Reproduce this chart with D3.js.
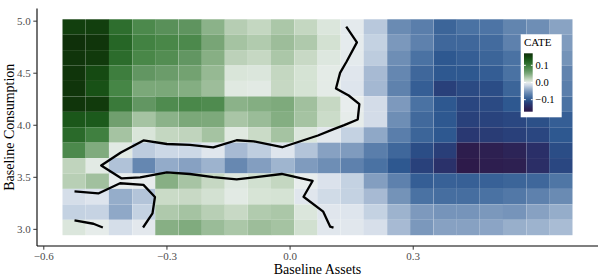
<!DOCTYPE html>
<html>
<head>
<meta charset="utf-8">
<script src="https://cdn.jsdelivr.net/npm/d3@7"></script>
<style>
  html, body { margin: 0; padding: 0; background: #ffffff; }
  svg { display: block; }
  text { font-family: "Liberation Serif", "DejaVu Serif", serif; }
</style>
</head>
<body>
<svg id="chart" width="600" height="280"></svg>
<script>
// ---------------- data ----------------
// column centres (Baseline Assets)
const xCenters = [-0.525, -0.468, -0.412, -0.355, -0.299, -0.242, -0.186, -0.130, -0.073, -0.017,
                  0.040, 0.096, 0.153, 0.209, 0.266, 0.322, 0.379, 0.435, 0.492, 0.548, 0.605, 0.661];
// row centres (Baseline Consumption), top row first
const yCenters = [4.939, 4.791, 4.643, 4.495, 4.347, 4.198, 4.050, 3.902, 3.754, 3.606, 3.458, 3.310, 3.161, 3.013];
const tileW = 0.0565;
const tileH = 0.1482;

// CATE estimates, one row per yCenters entry (top to bottom)
const cate = [
  [0.155, 0.155, 0.110, 0.085, 0.075, 0.070, 0.045, 0.025, 0.018, 0.030, 0.018, 0.006, -0.003, -0.025, -0.060, -0.070, -0.090, -0.080, -0.078, -0.065, -0.058, -0.045],
  [0.170, 0.165, 0.120, 0.093, 0.088, 0.085, 0.055, 0.033, 0.027, 0.037, 0.028, 0.010, -0.002, -0.020, -0.052, -0.068, -0.088, -0.088, -0.085, -0.068, -0.060, -0.050],
  [0.165, 0.160, 0.112, 0.088, 0.080, 0.068, 0.047, 0.022, 0.017, 0.030, 0.016, 0.005, -0.003, -0.023, -0.058, -0.080, -0.100, -0.095, -0.090, -0.080, -0.065, -0.055],
  [0.165, 0.145, 0.097, 0.068, 0.063, 0.058, 0.040, 0.007, 0.006, 0.018, 0.009, 0.002, -0.006, -0.032, -0.063, -0.088, -0.100, -0.100, -0.096, -0.080, -0.073, -0.066],
  [0.165, 0.140, 0.090, 0.053, 0.053, 0.048, 0.037, 0.004, 0.003, 0.017, 0.009, 0.002, -0.007, -0.033, -0.067, -0.095, -0.118, -0.110, -0.108, -0.090, -0.080, -0.070],
  [0.165, 0.160, 0.100, 0.068, 0.083, 0.087, 0.083, 0.045, 0.048, 0.051, 0.035, 0.017, 0.000, -0.013, -0.051, -0.080, -0.100, -0.113, -0.110, -0.100, -0.090, -0.080],
  [0.135, 0.133, 0.060, 0.033, 0.045, 0.053, 0.052, 0.031, 0.038, 0.048, 0.033, 0.014, 0.001, -0.013, -0.058, -0.087, -0.100, -0.117, -0.115, -0.112, -0.106, -0.095],
  [0.115, 0.095, 0.033, 0.007, 0.018, 0.020, 0.033, 0.004, 0.015, 0.033, 0.006, -0.004, -0.020, -0.042, -0.070, -0.090, -0.100, -0.125, -0.122, -0.118, -0.113, -0.100],
  [0.085, 0.050, 0.003, -0.023, -0.016, -0.016, -0.006, -0.032, -0.022, -0.007, -0.027, -0.046, -0.050, -0.070, -0.088, -0.108, -0.120, -0.165, -0.160, -0.152, -0.135, -0.108],
  [0.020, 0.003, -0.028, -0.063, -0.040, -0.046, -0.036, -0.062, -0.048, -0.035, -0.050, -0.058, -0.068, -0.080, -0.100, -0.117, -0.133, -0.170, -0.163, -0.160, -0.137, -0.112],
  [0.024, 0.035, 0.000, -0.001, 0.047, 0.032, 0.017, 0.005, 0.011, 0.018, 0.000, -0.009, -0.020, -0.048, -0.068, -0.095, -0.093, -0.094, -0.093, -0.090, -0.088, -0.077],
  [-0.012, -0.008, -0.039, -0.027, 0.015, 0.016, 0.010, 0.003, 0.008, 0.009, -0.006, -0.014, -0.020, -0.032, -0.055, -0.080, -0.083, -0.083, -0.080, -0.075, -0.068, -0.060],
  [-0.020, -0.019, -0.042, -0.020, 0.028, 0.033, 0.024, 0.016, 0.027, 0.030, 0.006, -0.006, -0.007, -0.020, -0.036, -0.051, -0.054, -0.054, -0.052, -0.054, -0.046, -0.039],
  [0.006, 0.001, -0.012, -0.004, 0.047, 0.050, 0.038, 0.030, 0.037, 0.033, 0.011, -0.005, -0.005, -0.011, -0.032, -0.052, -0.046, -0.046, -0.044, -0.038, -0.036, -0.031]
];

// zero-CATE contour lines [assets, consumption]
const contourA = [
  [0.138, 4.942], [0.164, 4.791], [0.139, 4.608], [0.123, 4.498], [0.113, 4.349], [0.144, 4.281],
  [0.170, 4.198], [0.166, 4.051], [0.133, 3.996], [0.106, 3.955], [0.069, 3.897], [-0.018, 3.784],
  [-0.087, 3.840], [-0.129, 3.851], [-0.186, 3.782], [-0.243, 3.806], [-0.299, 3.815], [-0.356, 3.849],
  [-0.411, 3.734], [-0.459, 3.609], [-0.409, 3.484], [-0.364, 3.494], [-0.299, 3.542], [-0.243, 3.527],
  [-0.186, 3.496], [-0.129, 3.475], [-0.019, 3.527], [0.056, 3.460], [0.034, 3.308], [0.082, 3.165],
  [0.099, 3.021], [0.107, 3.012]
];
const contourB = [
  [-0.524, 3.359], [-0.466, 3.340], [-0.413, 3.438], [-0.356, 3.422], [-0.328, 3.306], [-0.334, 3.148], [-0.357, 3.013]
];
const contourC = [
  [-0.524, 3.081], [-0.478, 3.049], [-0.455, 3.013]
];

const xTicks = [-0.6, -0.3, 0.0, 0.3];
const yTicks = [3.0, 3.5, 4.0, 4.5, 5.0];
const legendTicks = [-0.1, 0.0, 0.1];

const rampValues = [-0.17, -0.15, -0.13, -0.115, -0.1, -0.08, -0.06, -0.04, -0.02, -0.008, 0,
                    0.008, 0.02, 0.035, 0.05, 0.07, 0.09, 0.11, 0.13, 0.145, 0.16, 0.17];
const rampColors = ["#2d1a4a", "#2c2558", "#29336d", "#29437d", "#2e5890", "#4a72a3", "#6a8bb3",
                    "#93abc9", "#c4d2e2", "#dde4ed", "#e8eded", "#d7e4d6", "#c0d4bd", "#a1c09e",
                    "#80ab7e", "#5f945f", "#468646", "#2e6e2e", "#1e5e1e", "#154a12", "#113a0c", "#0f300a"];

// ---------------- drawing ----------------
const svg = d3.select("#chart");
const panel = { left: 37, right: 598, top: 8.5, bottom: 246 };

const cells = [];
cate.forEach((row, r) => row.forEach((v, c) => cells.push({ x: xCenters[c], y: yCenters[r], v })));

const xMin = d3.min(xCenters) - tileW / 2, xMax = d3.max(xCenters) + tileW / 2;
const yMin = d3.min(yCenters) - tileH / 2, yMax = d3.max(yCenters) + tileH / 2;
const xExp = (xMax - xMin) * 0.05, yExp = (yMax - yMin) * 0.05;

const x = d3.scaleLinear().domain([xMin - xExp, xMax + xExp]).range([panel.left, panel.right]);
const y = d3.scaleLinear().domain([yMin - yExp, yMax + yExp]).range([panel.bottom, panel.top]);
const color = d3.scaleLinear().domain(rampValues).range(rampColors).interpolate(d3.interpolateLab).clamp(true);

// tiles
svg.append("g").selectAll("rect").data(cells).join("rect")
  .attr("x", d => x(d.x - tileW / 2))
  .attr("y", d => y(d.y + tileH / 2))
  .attr("width", d => x(d.x + tileW / 2) - x(d.x - tileW / 2))
  .attr("height", d => y(d.y - tileH / 2) - y(d.y + tileH / 2))
  .attr("fill", d => color(d.v));

// contours
const line = d3.line().x(d => x(d[0])).y(d => y(d[1]));
svg.append("g").selectAll("path").data([contourA, contourB, contourC]).join("path")
  .attr("d", line)
  .attr("fill", "none")
  .attr("stroke", "#000")
  .attr("stroke-width", 2.3)
  .attr("stroke-linejoin", "round")
  .attr("stroke-linecap", "butt");

// axes
const xAxis = d3.axisBottom(x).tickValues(xTicks).tickSize(3.7).tickPadding(2.5)
  .tickFormat(d => d3.format(".1f")(d).replace("-", "\u2212"));
const yAxis = d3.axisLeft(y).tickValues(yTicks).tickSize(3.7).tickPadding(2.5)
  .tickFormat(d3.format(".1f"));

const gx = svg.append("g").attr("transform", `translate(0,${panel.bottom})`).call(xAxis);
const gy = svg.append("g").attr("transform", `translate(${panel.left},0)`).call(yAxis);
[gx, gy].forEach(g => {
  g.select(".domain").attr("stroke", "#000").attr("stroke-width", 1.1);
  g.selectAll(".tick line").attr("stroke", "#333").attr("stroke-width", 1);
  g.selectAll(".tick text").attr("fill", "#4d4d4d").attr("font-size", 11)
    .attr("font-family", "Liberation Serif, serif");
});
gx.select(".domain").attr("d", `M${panel.left},0H${panel.right}`);
gy.select(".domain").attr("d", `M0,${panel.top}V${panel.bottom}`);

// axis titles
svg.append("text").attr("x", (panel.left + panel.right) / 2).attr("y", 274)
  .attr("text-anchor", "middle").attr("font-size", 14).attr("fill", "#000")
  .text("Baseline Assets");
svg.append("text").attr("transform", `translate(14,${(panel.top + panel.bottom) / 2}) rotate(-90)`)
  .attr("text-anchor", "middle").attr("font-size", 14).attr("fill", "#000")
  .text("Baseline Consumption");

// legend
const lg = svg.append("g");
lg.append("rect").attr("x", 520.7).attr("y", 34.3).attr("width", 41).attr("height", 83).attr("fill", "#fff");
lg.append("text").attr("x", 524).attr("y", 46).attr("font-size", 11).attr("fill", "#000").text("CATE");

const vExt = d3.extent(cells, d => d.v);
const ly = d3.scaleLinear().domain(vExt).range([111.7, 53.3]);
const gradId = "cateGrad";
const grad = svg.append("defs").append("linearGradient").attr("id", gradId)
  .attr("x1", 0).attr("y1", 1).attr("x2", 0).attr("y2", 0);
d3.range(0, 1.0001, 0.05).forEach(t => {
  const v = vExt[0] + t * (vExt[1] - vExt[0]);
  grad.append("stop").attr("offset", t).attr("stop-color", color(v));
});
lg.append("rect").attr("x", 524).attr("y", ly(vExt[1])).attr("width", 8.7)
  .attr("height", ly(vExt[0]) - ly(vExt[1])).attr("fill", `url(#${gradId})`);
legendTicks.forEach(t => {
  lg.append("line").attr("x1", 524).attr("x2", 525.8).attr("y1", ly(t)).attr("y2", ly(t)).attr("stroke", "#fff");
  lg.append("line").attr("x1", 530.9).attr("x2", 532.7).attr("y1", ly(t)).attr("y2", ly(t)).attr("stroke", "#fff");
  lg.append("text").attr("x", 535.5).attr("y", ly(t)).attr("dy", "0.35em")
    .attr("font-size", 10.5).attr("fill", "#000")
    .text(d3.format(".1f")(t).replace("-", "\u2212"));
});
</script>
</body>
</html>
